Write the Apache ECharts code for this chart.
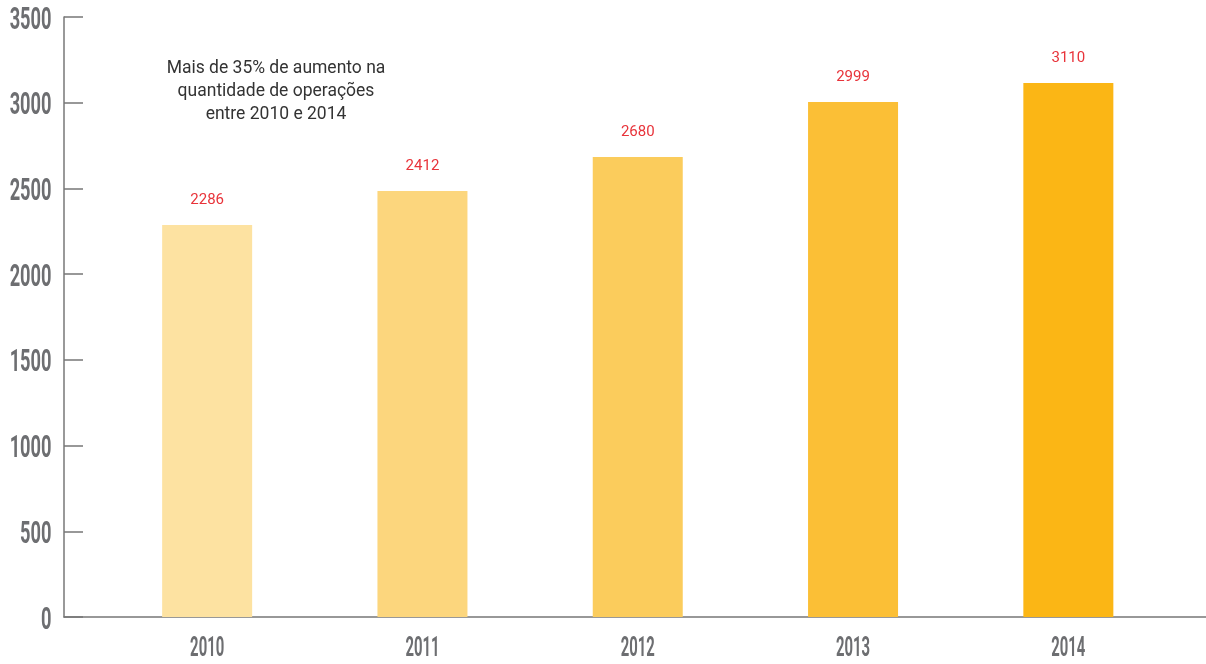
<!DOCTYPE html>
<html><head><meta charset="utf-8">
<script src="https://cdn.jsdelivr.net/npm/echarts@6/dist/echarts.min.js"></script>
<style>html,body{margin:0;padding:0;background:#fff}#c{width:1206px;height:664px}</style>
</head><body><div id="c"></div>
<script>
var years = ['2010','2011','2012','2013','2014'];
var barHeights = [2286, 2485, 2683, 3004, 3115];
var barLabels = ['2286','2412','2680','2999','3110'];
var barColors = ['#FDE2A1','#FCD67D','#FBCC5C','#FBBF36','#FBB615'];
var yTicks = [0,500,1000,1500,2000,2500,3000,3500];
var note = 'Mais de 35% de aumento na\nquantidade de operações\nentre 2010 e 2014';

var chart = echarts.init(document.getElementById('c'), null, {renderer:'canvas'});
var baseOption = {
  animation:false,
  grid:[
    {left:99.5, right:30, top:17, bottom:47, outerBoundsMode:'none', containLabel:false},
    {left:64, right:0, top:17, bottom:47, outerBoundsMode:'none', containLabel:false}
  ],
  xAxis:[
    {type:'category', gridIndex:0, data:years,
     axisLine:{show:false}, axisTick:{show:false}, axisLabel:{show:false}},
    {type:'value', gridIndex:1, min:0, max:1,
     axisLine:{show:true, lineStyle:{color:'#777', width:1.5}},
     axisTick:{show:false}, axisLabel:{show:false}, splitLine:{show:false}}
  ],
  yAxis:[
    {type:'value', gridIndex:0, min:yTicks[0], max:yTicks[yTicks.length-1], interval:500, offset:35.5,
     axisLine:{show:true, lineStyle:{color:'#777', width:1.5}},
     axisTick:{show:true, inside:true, length:19, lineStyle:{color:'#777', width:1.5}},
     splitLine:{show:false}, axisLabel:{show:false}},
    {type:'value', gridIndex:1, show:false, min:0, max:1}
  ],
  series:[{
    type:'bar', xAxisIndex:0, yAxisIndex:0, barWidth:90,
    data: barHeights.map(function(v,i){return {value:v, itemStyle:{color:barColors[i]}};}),
    label:{show:true, position:'top', distance:17.5, color:'#E8333A', fontFamily:'Roboto', fontSize:15,
      formatter:function(p){return barLabels[p.dataIndex];}}
  }]
};
chart.setOption(baseOption);

// Condensed axis labels, placed through the axes' own scales
var yAxisPixelX = chart.convertToPixel({gridIndex:1}, [0, 0])[0];
var bottomY = chart.convertToPixel({yAxisIndex:0}, 0);
var graphics = [{type:'text', x:276, y:57.5,
  style:{text:note, fill:'#333', font:'17.5px Roboto', textAlign:'center', textVerticalAlign:'top', lineHeight:22.8}}];
yTicks.forEach(function(v){
  var py = chart.convertToPixel({yAxisIndex:0}, v);
  graphics.push({type:'text', x:yAxisPixelX - 12.5, y:py + 3.5, scaleX:0.57,
    style:{text:String(v), fill:'#6D6E71', font:'bold 32px Roboto', textAlign:'right', textVerticalAlign:'middle'}});
});
years.forEach(function(yr){
  var px = chart.convertToPixel({xAxisIndex:0}, yr);
  graphics.push({type:'text', x:px, y:bottomY + 32, scaleX:0.55,
    style:{text:yr, fill:'#6D6E71', font:'bold 27px Roboto', textAlign:'center', textVerticalAlign:'middle'}});
});
chart.setOption({graphic:graphics});
</script></body></html>
